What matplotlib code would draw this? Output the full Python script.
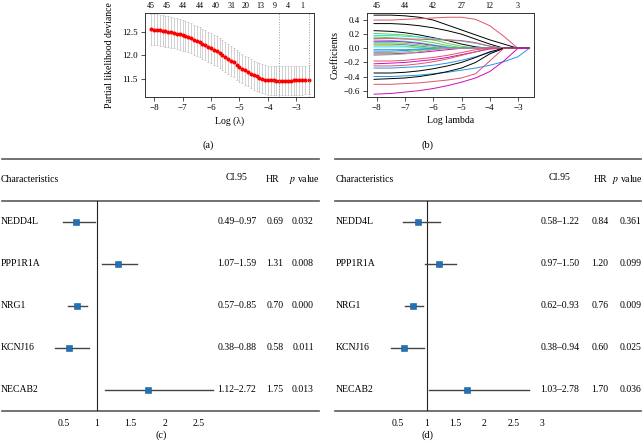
import matplotlib
matplotlib.use("Agg")
import matplotlib.pyplot as plt
from matplotlib import transforms

plt.rcParams["font.family"] = ["Liberation Serif", "DejaVu Serif"]
plt.rcParams["mathtext.fontset"] = "stix"

# ---- (a) cross-validation curve ----
cv_loglambda = [-8.1, -8.0, -7.9, -7.8, -7.7, -7.6, -7.5, -7.4, -7.3, -7.2, -7.1, -7.0,
                -6.9, -6.8, -6.7, -6.6, -6.5, -6.4, -6.3, -6.2, -6.1, -6.0,
                -5.9, -5.8, -5.7, -5.6, -5.5, -5.4, -5.3, -5.2, -5.1, -5.0,
                -4.9, -4.8, -4.7, -4.6, -4.5, -4.4, -4.3, -4.2, -4.1, -4.0,
                -3.9, -3.8, -3.7, -3.6, -3.5, -3.4, -3.3, -3.2, -3.1, -3.0,
                -2.9, -2.8, -2.7, -2.56]
cv_mean = [12.56, 12.55, 12.55, 12.54, 12.53, 12.52, 12.51, 12.50, 12.48, 12.47, 12.45, 12.43,
           12.41, 12.39, 12.37, 12.34, 12.31, 12.28, 12.25, 12.22, 12.19, 12.16,
           12.12, 12.09, 12.05, 12.01, 11.97, 11.93, 11.89, 11.85, 11.80, 11.76,
           11.72, 11.68, 11.65, 11.61, 11.58, 11.55, 11.52, 11.50, 11.48, 11.47,
           11.47, 11.465, 11.46, 11.46, 11.46, 11.46, 11.46, 11.46, 11.465, 11.465,
           11.47, 11.47, 11.475, 11.48]
cv_se = [0.33, 0.33, 0.33, 0.33, 0.33, 0.33, 0.33, 0.33, 0.33, 0.33, 0.33, 0.33,
         0.32, 0.32, 0.32, 0.32, 0.32, 0.32, 0.32, 0.32, 0.32, 0.32,
         0.32, 0.32, 0.32, 0.32, 0.32, 0.32, 0.32, 0.32, 0.32, 0.32,
         0.31, 0.31, 0.31, 0.31, 0.31, 0.31, 0.31, 0.31, 0.31, 0.31,
         0.31, 0.31, 0.31, 0.31, 0.31, 0.31, 0.31, 0.31, 0.31, 0.31,
         0.31, 0.31, 0.31, 0.31]
lambda_min = -3.62
lambda_1se = -2.56
nz_pos_a = [-8.12, -7.55, -6.98, -6.4, -5.84, -5.28, -4.8, -4.27, -3.76, -3.3, -2.8]
nz_labels_a = ["45", "45", "44", "44", "40", "31", "20", "13", "9", "4", "1"]

# ---- (b) coefficient paths ----
path_loglambda = [-8.1, -7.5, -7.0, -6.5, -6.0, -5.5, -5.0, -4.5, -4.0, -3.5, -3.0, -2.6]
coef_paths = [
    [0.47, 0.47, 0.46, 0.44, 0.40, 0.33, 0.26, 0.19, 0.12, 0.06, 0.0, 0.0],
    [0.40, 0.40, 0.41, 0.42, 0.43, 0.44, 0.44, 0.41, 0.32, 0.17, 0.0, 0.0],
    [0.35, 0.35, 0.34, 0.32, 0.29, 0.25, 0.20, 0.13, 0.06, 0.0, 0.0, 0.0],
    [0.25, 0.24, 0.22, 0.19, 0.15, 0.11, 0.06, 0.02, 0.0, 0.0, 0.0, 0.0],
    [0.21, 0.20, 0.19, 0.16, 0.12, 0.07, 0.03, 0.0, 0.0, 0.0, 0.0, 0.0],
    [0.18, 0.18, 0.17, 0.16, 0.14, 0.12, 0.10, 0.07, 0.03, 0.0, 0.0, 0.0],
    [0.16, 0.15, 0.14, 0.11, 0.08, 0.04, 0.01, 0.0, 0.0, 0.0, 0.0, 0.0],
    [0.14, 0.14, 0.13, 0.13, 0.12, 0.12, 0.11, 0.08, 0.03, 0.0, 0.0, 0.0],
    [0.12, 0.11, 0.10, 0.08, 0.05, 0.02, 0.0, 0.0, 0.0, 0.0, 0.0, 0.0],
    [0.10, 0.10, 0.09, 0.07, 0.04, 0.01, 0.0, 0.0, 0.0, 0.0, 0.0, 0.0],
    [0.08, 0.08, 0.07, 0.05, 0.03, 0.0, 0.0, 0.0, 0.0, 0.0, 0.0, 0.0],
    [0.06, 0.06, 0.05, 0.03, 0.01, 0.0, 0.0, 0.0, 0.0, 0.0, 0.0, 0.0],
    [0.04, 0.04, 0.03, 0.02, 0.0, 0.0, 0.0, 0.0, 0.0, 0.0, 0.0, 0.0],
    [0.02, 0.02, 0.02, 0.01, 0.0, 0.0, 0.0, 0.0, 0.0, 0.0, 0.0, 0.0],
    [-0.02, -0.02, -0.02, -0.01, 0.0, 0.0, 0.0, 0.0, 0.0, 0.0, 0.0, 0.0],
    [-0.04, -0.04, -0.03, -0.02, -0.01, 0.0, 0.0, 0.0, 0.0, 0.0, 0.0, 0.0],
    [-0.06, -0.06, -0.05, -0.03, -0.01, 0.0, 0.0, 0.0, 0.0, 0.0, 0.0, 0.0],
    [-0.08, -0.08, -0.07, -0.06, -0.04, -0.02, 0.0, 0.0, 0.0, 0.0, 0.0, 0.0],
    [-0.10, -0.09, -0.08, -0.05, -0.02, 0.0, 0.0, 0.0, 0.0, 0.0, 0.0, 0.0],
    [-0.18, -0.18, -0.17, -0.15, -0.13, -0.10, -0.06, -0.02, 0.0, 0.0, 0.0, 0.0],
    [-0.22, -0.21, -0.20, -0.18, -0.16, -0.13, -0.09, -0.05, -0.01, 0.0, 0.0, 0.0],
    [-0.25, -0.25, -0.24, -0.22, -0.19, -0.15, -0.10, -0.05, 0.0, 0.0, 0.0, 0.0],
    [-0.28, -0.28, -0.27, -0.26, -0.24, -0.21, -0.17, -0.12, -0.06, 0.0, 0.0, 0.0],
    [-0.35, -0.35, -0.34, -0.32, -0.29, -0.25, -0.20, -0.13, -0.05, 0.0, 0.0, 0.0],
    [-0.40, -0.40, -0.39, -0.38, -0.36, -0.34, -0.31, -0.28, -0.24, -0.19, -0.12, 0.0],
    [-0.44, -0.43, -0.42, -0.40, -0.37, -0.33, -0.28, -0.20, -0.08, 0.0, 0.0, 0.0],
    [-0.51, -0.51, -0.50, -0.49, -0.47, -0.45, -0.42, -0.36, -0.18, 0.0, 0.0, 0.0],
    [-0.65, -0.64, -0.62, -0.60, -0.57, -0.53, -0.48, -0.42, -0.33, -0.18, 0.0, 0.0],
]
path_color_idx = [0, 1, 0, 0, 2, 4, 2, 1, 4, 5, 2, 3, 6, 4,
                  3, 3, 2, 5, 7, 1, 5, 1, 3, 0, 3, 0, 1, 5]
nz_pos_b = [-8, -7, -6, -5, -4, -3]
nz_labels_b = ["45", "44", "42", "27", "12", "3"]

# ---- (c) and (d) forest plots ----
genes = ["NEDD4L", "PPP1R1A", "NRG1", "KCNJ16", "NECAB2"]
uni_hr = [0.69, 1.31, 0.70, 0.58, 1.75]
uni_low = [0.49, 1.07, 0.57, 0.38, 1.12]
uni_high = [0.97, 1.59, 0.85, 0.88, 2.72]
uni_p = ["0.032", "0.008", "0.000", "0.011", "0.013"]
multi_hr = [0.84, 1.20, 0.76, 0.60, 1.70]
multi_low = [0.58, 0.97, 0.62, 0.38, 1.03]
multi_high = [1.22, 1.50, 0.93, 0.94, 2.78]
multi_p = ["0.361", "0.099", "0.009", "0.025", "0.036"]

R_PALETTE = ["#000000", "#DF536B", "#61D04F", "#2297E6",
             "#28E2E5", "#CD0BBC", "#F5C710", "#9E9E9E"]
FIG_W, FIG_H = 644, 447
FS = 7


def px_rect(x0, y0, x1, y1):
    return [x0 / FIG_W, 1 - y1 / FIG_H, (x1 - x0) / FIG_W, (y1 - y0) / FIG_H]


def style_r_axes(ax):
    for s in ax.spines.values():
        s.set_color("#333333")
        s.set_linewidth(0.7)
    ax.tick_params(direction="out", length=3.2, width=0.6, color="#333333",
                   labelsize=6.5, pad=2)


def draw_forest(fig, x0, x1, zero_px, unit_px, hr, low, high, pvals, xticks,
                rule_x0, text_x):
    width = x1 - x0
    ax = fig.add_axes(px_rect(x0, 159, x1, 411))
    ax.set_xlim((x0 - zero_px) / unit_px, (x1 - zero_px) / unit_px)
    ax.set_ylim(4.5, -1.5)
    for s in ax.spines.values():
        s.set_visible(False)
    ax.set_yticks([])
    ax.set_xticks(xticks)
    ax.set_xticklabels([f"{t:g}" for t in xticks])
    ax.tick_params(axis="x", length=0, labelsize=FS, pad=6)

    rows = list(range(len(genes)))
    for y in (-1.5, -0.5, 4.5):
        ax.axhline(y, xmin=(rule_x0 - x0) / width, xmax=1 - 3 / width,
                   color="#5a5a5a", lw=1.2, clip_on=False)
    ax.plot([1, 1], [-0.5, 4.5], color="#222222", lw=0.8)
    for i in rows:
        ax.plot([low[i], high[i]], [i, i], color="#444444", lw=1.0)
    ax.plot(hr, rows, "s", color="#2370B5", ms=4.4, mec="#1A5E9A", mew=0.4)

    tr = transforms.blended_transform_factory(ax.transAxes, ax.transData)
    fx = {k: (v - x0) / width for k, v in text_x.items()}
    ax.text(fx["name"], -1, "Characteristics", transform=tr, fontsize=FS,
            ha="left", va="center")
    ax.text(fx["ci_h"], -1.05, "CI.95", transform=tr, fontsize=FS,
            ha="center", va="center")
    ax.text(fx["hr_h"], -1, "HR", transform=tr, fontsize=FS,
            ha="center", va="center")
    ax.text(fx["p_h"], -1, r"$p$ value", transform=tr, fontsize=FS,
            ha="center", va="center")
    for i in rows:
        ax.text(fx["name"], i, genes[i], transform=tr, fontsize=FS,
                ha="left", va="center")
        ax.text(fx["ci"], i, f"{low[i]:.2f}\u2013{high[i]:.2f}", transform=tr,
                fontsize=FS, ha="center", va="center")
        ax.text(fx["hr"], i, f"{hr[i]:.2f}", transform=tr, fontsize=FS,
                ha="center", va="center")
        ax.text(fx["p"], i, pvals[i], transform=tr, fontsize=FS,
                ha="center", va="center")
    return ax


fig = plt.figure(figsize=(6.44, 4.47), dpi=100)

# panel (a)
ax_a = fig.add_axes(px_rect(145, 13, 314, 97))
ax_a.errorbar(cv_loglambda, cv_mean, yerr=cv_se, fmt="none", ecolor="#bdbdbd",
              elinewidth=0.5, capsize=1.0, capthick=0.5)
ax_a.plot(cv_loglambda, cv_mean, "o", color="#ff0000", ms=2.9, mec="none")
ax_a.axvline(lambda_min, color="#9a9a9a", ls=":", lw=0.7)
ax_a.axvline(lambda_1se, color="#9a9a9a", ls=":", lw=0.7)
ax_a.set_xlim(-8.32, -2.38)
ax_a.set_ylim(11.11, 12.91)
ax_a.set_xticks([-8, -7, -6, -5, -4, -3])
ax_a.set_yticks([11.5, 12.0, 12.5])
ax_a.set_yticklabels(["11.5", "12.0", "12.5"])
style_r_axes(ax_a)
ax_a.set_xlabel("Log (\u03bb)", fontsize=FS, labelpad=3)
ax_a.set_ylabel("Partial likelihood deviance", fontsize=FS, labelpad=6)
top_a = ax_a.secondary_xaxis("top")
top_a.set_xticks(nz_pos_a, labels=nz_labels_a)
top_a.tick_params(length=0, pad=2.5, labelsize=5.8)
top_a.spines["top"].set_visible(False)

# panel (b)
ax_b = fig.add_axes(px_rect(367, 13, 534, 97))
for path, ci in zip(coef_paths, path_color_idx):
    ax_b.plot(path_loglambda, path, color=R_PALETTE[ci], lw=0.7)
ax_b.set_xlim(-8.35, -2.43)
ax_b.set_ylim(-0.69, 0.5)
ax_b.set_xticks([-8, -7, -6, -5, -4, -3])
ax_b.set_yticks([-0.6, -0.4, -0.2, 0.0, 0.2, 0.4])
ax_b.set_yticklabels(["\u22120.6", "\u22120.4", "\u22120.2", "0.0", "0.2", "0.4"])
style_r_axes(ax_b)
ax_b.set_xlabel("Log lambda", fontsize=FS, labelpad=3)
ax_b.set_ylabel("Coefficients", fontsize=FS, labelpad=3)
top_b = ax_b.secondary_xaxis("top")
top_b.set_xticks(nz_pos_b, labels=nz_labels_b)
top_b.tick_params(length=0, pad=2.5, labelsize=5.8)
top_b.spines["top"].set_visible(False)

# panel (c) univariate
draw_forest(fig, 0, 322, 29.5, 67.5, uni_hr, uni_low, uni_high, uni_p,
            [0.5, 1, 1.5, 2, 2.5], 2,
            {"name": 1, "ci_h": 237, "hr_h": 273, "p_h": 304,
             "ci": 237, "hr": 275, "p": 303})

# panel (d) multivariate
draw_forest(fig, 322, 644, 369.5, 57.5, multi_hr, multi_low, multi_high, multi_p,
            [0.5, 1, 1.5, 2, 2.5, 3], 335,
            {"name": 336, "ci_h": 560, "hr_h": 600, "p_h": 627,
             "ci": 560, "hr": 600, "p": 631})

for label, x, y in (("(a)", 208, 145), ("(b)", 428, 145),
                    ("(c)", 161, 435), ("(d)", 428, 435)):
    fig.text(x / FIG_W, 1 - y / FIG_H, label, fontsize=FS + 0.5,
             ha="center", va="center")

fig.savefig("out.png", dpi=100)
